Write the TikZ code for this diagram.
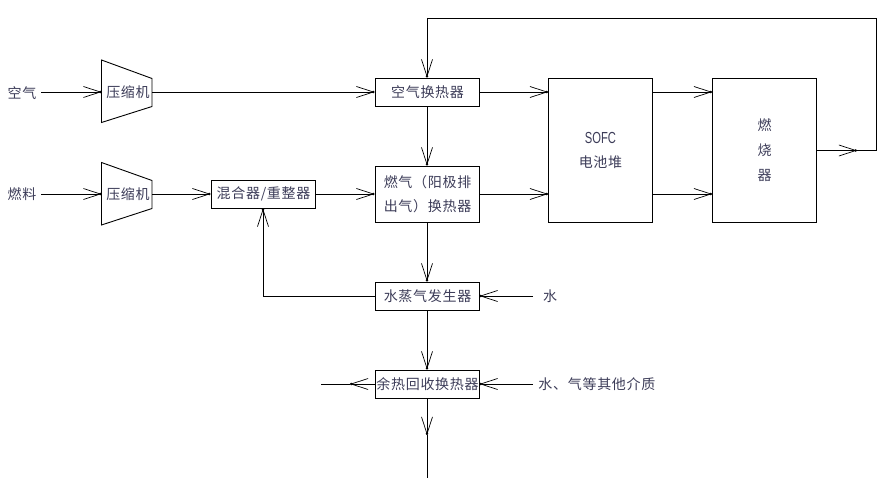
\documentclass[tikz,border=0pt]{standalone}
\usepackage{fontspec}
\setmainfont{Noto Sans CJK SC}[LetterSpace=5]
\newfontfamily\narrowfont{Liberation Sans}[FakeStretch=0.7]
\usetikzlibrary{arrows.meta}
\definecolor{txt}{HTML}{3C3C58}
\begin{document}
\begin{tikzpicture}[x=1pt,y=-1pt,line width=0.9pt,
  arr/.style={-{Straight Barb[length=17pt,width=11pt,line width=0.7pt,sep=-2.5pt]Circle[length=2.5pt]}},
  box/.style={draw,inner sep=0pt,minimum width=104pt,minimum height=28pt,text=txt,
    font=\fontsize{14}{24}\selectfont,align=center},
  big/.style={box,minimum height=144pt},
  lbl/.style={inner sep=0pt,text=txt,font=\fontsize{14}{16}\selectfont}]
\useasboundingbox (0,0) rectangle (894,484);

% compressors
\draw (101.5,60) -- (152,78.5) -- (152,106.5) -- (101.5,122.5) -- cycle;
\node[lbl] (comp1) at (128,92) {压缩机};
\coordinate (comp1in) at (101.5,92);
\coordinate (comp1out) at (152,92);
\draw (101.5,162.5) -- (152,180.5) -- (152,208.5) -- (101.5,225) -- cycle;
\node[lbl] (comp2) at (128,194) {压缩机};
\coordinate (comp2in) at (101.5,194);
\coordinate (comp2out) at (152,194);

% inputs
\node[lbl] (air) at (22,93) {空气};
\coordinate (airend) at (41,92);
\node[lbl] (fuel) at (22,194) {燃料};
\coordinate (fuelend) at (41,194);

% boxes
\node[box] (airhx) at (427,92) {\hspace{1pt}空气换热器};
\node[box,minimum height=56pt] (fuelhx) at (427,194) {\hspace{1pt}燃气（阳极排\\\hspace{1pt}出气）换热器};
\node[box] (mixer) at (263,194) {\hspace{1pt}混合器/重整器};
\node[box] (steam) at (427,296) {\hspace{1pt}水蒸气发生器};
\node[box] (waste) at (427,384) {\hspace{1pt}余热回收换热器};
\node[big,font=\fontsize{14}{24}\selectfont] (sofc) at (600.5,150.5) {{\narrowfont\fontsize{16}{24}\selectfont SOFC}\\电池堆};
\node[big,font=\fontsize{14}{25}\selectfont] (burner) at (764.5,150.5) {燃\\烧\\器};

% right-side labels
\node[lbl] (water) at (550,296) {水};
\coordinate (waterend) at (533,296);
\node[lbl,anchor=west] (media) at (538,384) {水、气等其他介质};
\coordinate (mediaend) at (533,384);

% connectors
\draw[arr] (airend) -- (comp1in);
\draw[arr] (fuelend) -- (comp2in);
\draw[arr] (comp1out) -- (airhx.west);
\draw[arr] (comp2out) -- (mixer.west);
\draw[arr] (mixer.east) -- (fuelhx.west);
\draw[arr] (airhx.south) -- (fuelhx.north);
\draw[arr] (airhx.east) -- (sofc.west |- airhx.east);
\draw[arr] (fuelhx.east) -- (sofc.west |- fuelhx.east);
\draw[arr] (sofc.east |- airhx.east) -- (burner.west |- airhx.east);
\draw[arr] (sofc.east |- fuelhx.east) -- (burner.west |- fuelhx.east);
\draw[arr] (fuelhx.south) -- (steam.north);
\draw[arr] (steam.south) -- (waste.north);
\draw[arr] (waterend) -- (steam.east);
\draw[arr] (mediaend) -- (waste.east);
\draw[arr] (steam.west) -| (mixer.south);

% recirculation loop
\coordinate (loopa) at (857,150.5);
\coordinate (loopb) at (876,150.5);
\coordinate (loopc) at (876,18);
\coordinate (loopd) at (427,18);
\draw[arr] (burner.east) -- (loopa);
\draw (loopa) -- (loopb) -- (loopc) -- (loopd);
\draw[arr] (loopd) -- (airhx.north);

% outlets
\coordinate (outla) at (350,384);
\coordinate (outlb) at (321,384);
\draw[arr] (waste.west) -- (outla);
\draw (outla) -- (outlb);
\coordinate (outba) at (427,435);
\coordinate (outbb) at (427,478);
\draw[arr] (waste.south) -- (outba);
\draw (outba) -- (outbb);
\end{tikzpicture}
\end{document}
